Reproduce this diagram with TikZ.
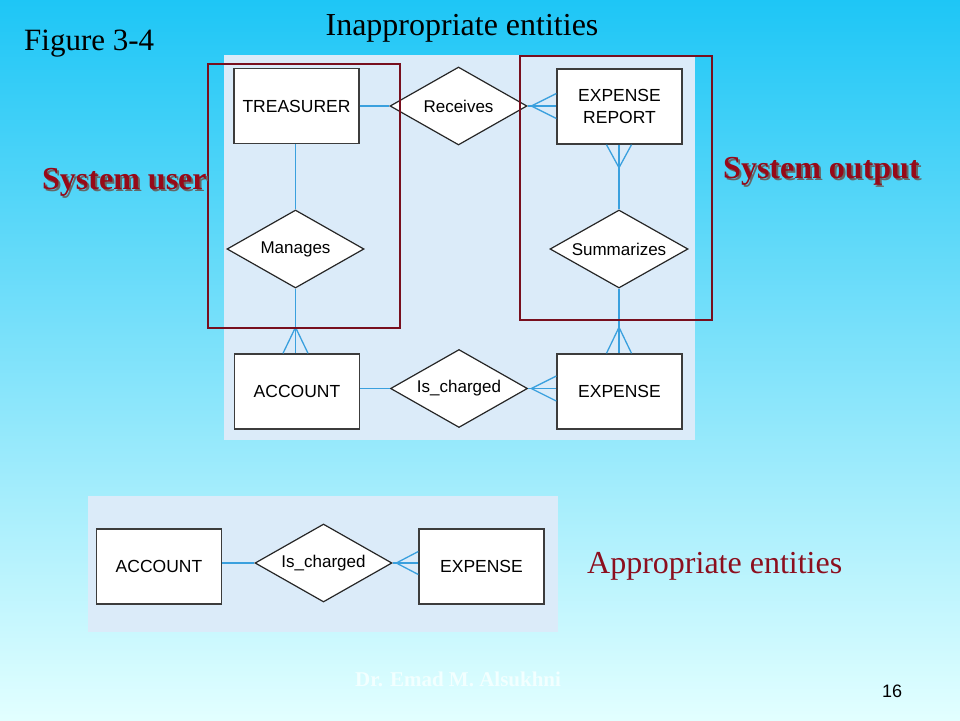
\documentclass[tikz,border=0pt]{standalone}
\usepackage{fontspec}
\setmainfont{Liberation Serif}
\setsansfont{Liberation Sans}
\usetikzlibrary{shapes.geometric,calc}
\definecolor{bgtop}{RGB}{30,198,246}
\definecolor{bgbot}{RGB}{226,255,255}
\definecolor{panelc}{RGB}{219,235,249}
\definecolor{connc}{RGB}{58,160,222}
\definecolor{framered}{RGB}{120,15,30}
\definecolor{txtred}{RGB}{150,10,25}
\definecolor{apred}{RGB}{140,15,30}
\definecolor{boxline}{RGB}{60,60,60}
\definecolor{footc}{RGB}{242,255,255}
\begin{document}
\begin{tikzpicture}[x=1pt,y=-1pt,
  ent/.style={draw=boxline,line width=1.4pt,fill=white,minimum width=125pt,minimum height=75pt,inner sep=0pt,font=\sffamily\fontsize{17.5}{22}\selectfont,align=center},
  rel/.style={diamond,draw=black!85,line width=1.2pt,fill=white,minimum width=137pt,minimum height=78pt,inner sep=0pt,
    label={[inner sep=0pt,font=\sffamily\fontsize{17}{20}\selectfont]center:#1}},
  connl/.style={draw=connc,line width=1.3pt},
  frame/.style={draw=framered,line width=2pt},
  crowL/.pic={\draw[connl] (-25,0) -- (0,-12.5) (-25,0) -- (0,12.5);},
  crowUp/.pic={\draw[connl] (0,23) -- (-12.5,0) (0,23) -- (12.5,0);},
  crowDn/.pic={\draw[connl] (0,-26) -- (-12.5,0) (0,-26) -- (12.5,0);},
  serif32/.style={inner sep=0pt,font=\fontsize{32}{38}\selectfont},
  bold32/.style={inner sep=0pt,font=\bfseries\fontsize{32}{38}\selectfont}
]
\useasboundingbox (0,0) rectangle (960,720);
\shade[top color=bgtop,bottom color=bgbot] (0,0) rectangle (960,720);

% panels
\fill[panelc] (224,55) rectangle (695,440);
\fill[panelc] (88,496) rectangle (558,632);

% upper diagram
\node[ent] (tr) at (296.5,106) {TREASURER};
\node[rel=Receives] (rcv) at (458.5,106) {};
\node[ent] (er) at (619.5,106.5) {EXPENSE\\REPORT};
\node[rel=Manages] (mng) at (295.5,249) {};
\node[rel=Summarizes,minimum width=138pt] (sum) at (619,249) {};
\node[ent] (acc) at (297,391.5) {ACCOUNT};
\node[rel=Is\_charged] (chg) at (459,388.5) {};
\node[ent] (exp) at (619.5,391.5) {EXPENSE};

\draw[connl] (tr.east |- rcv.west) -- (rcv.west);
\draw[connl] (rcv.east) -- (rcv.east -| er.west);
\pic at (rcv.east -| er.west) {crowL};
\draw[connl] (mng.north |- tr.south) -- (mng.north);
\draw[connl] (mng.south) -- (mng.south |- acc.north);
\pic at (mng.south |- acc.north) {crowDn};
\draw[connl] (sum.north |- er.south) -- (sum.north);
\pic at (sum.north |- er.south) {crowUp};
\draw[connl] (sum.south) -- (sum.south |- exp.north);
\pic at (sum.south |- exp.north) {crowDn};
\draw[connl] (acc.east |- chg.west) -- (chg.west);
\draw[connl] (chg.east) -- (chg.east -| exp.west);
\pic at (chg.east -| exp.west) {crowL};

% lower diagram
\node[ent] (acc2) at (159,566.5) {ACCOUNT};
\node[rel=Is\_charged] (chg2) at (323.5,563) {};
\node[ent] (exp2) at (481.5,566.5) {EXPENSE};
\draw[connl] (acc2.east |- chg2.west) -- (chg2.west);
\draw[connl] (chg2.east) -- (chg2.east -| exp2.west);
\begin{scope}[shift={(chg2.east -| exp2.west)}]
\draw[connl] (-22,0) -- (0,-11.5) (-22,0) -- (0,11.5);
\end{scope}

% red frames
\draw[frame] (208,64) rectangle (400,328);
\draw[frame] (520,56) rectangle (712,320);

% texts
\node[serif32,anchor=base west,font=\fontsize{31}{36}\selectfont] (fig) at (24,50) {Figure 3-4};
\node[serif32,anchor=base] (title) at (462,35) {Inappropriate entities};
\node[bold32,anchor=base west,text=black!60] (sushadow) at (44,191) {System user};
\node[bold32,anchor=base west,text=txtred] (su) at (42,189) {System user};
\node[bold32,anchor=base west,text=black!60] (soshadow) at (725,180) {System output};
\node[bold32,anchor=base west,text=txtred] (so) at (723,178) {System output};
\node[serif32,anchor=base west,text=apred] (ap) at (587,573) {Appropriate entities};
\node[inner sep=0pt,anchor=base west,text=footc,font=\bfseries\fontsize{21}{25}\selectfont] (dr) at (355,686) {Dr. Emad M. Alsukhni};
\node[inner sep=0pt,anchor=base west,font=\sffamily\fontsize{18}{22}\selectfont] (pg) at (882,697) {16};
\end{tikzpicture}
\end{document}
